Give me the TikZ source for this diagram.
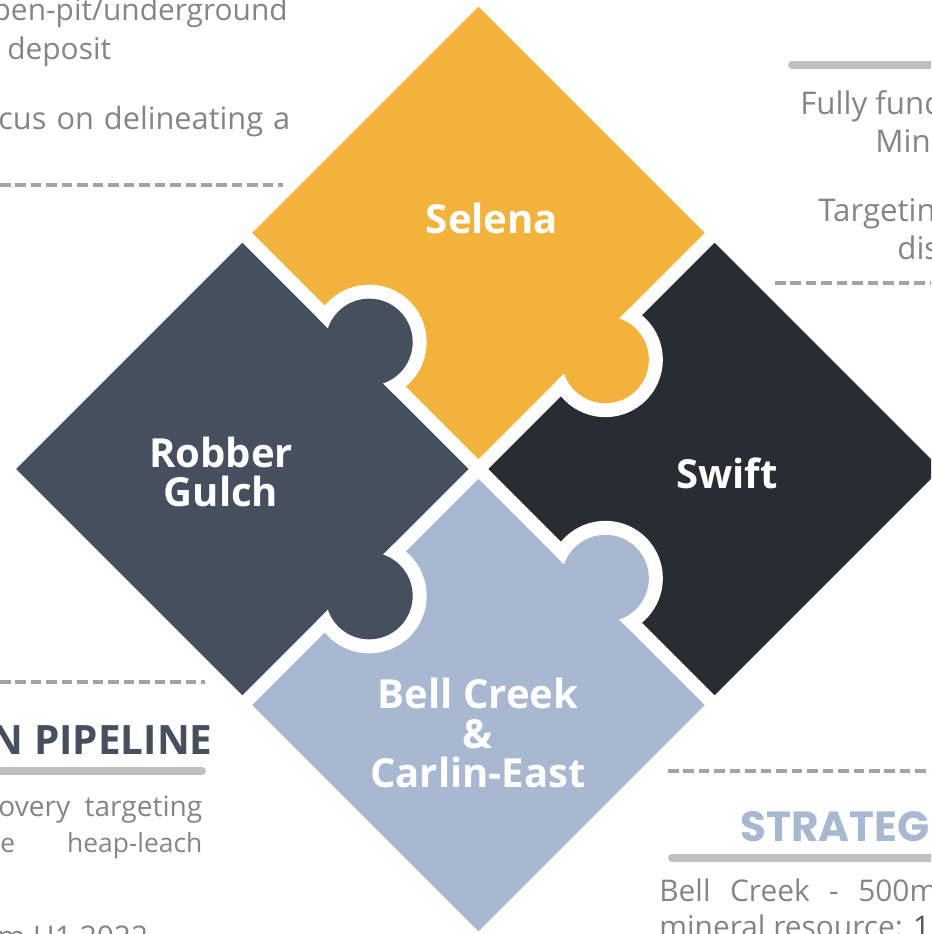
\documentclass[tikz,border=0pt]{standalone}
\usepackage{fontspec}
\setmainfont{Open Sans}
\newfontfamily\popfont{Poppins}
\usepackage{xcolor}
\usepackage{tikz}
\definecolor{selena}{HTML}{F2B23C}
\definecolor{robber}{HTML}{464F5E}
\definecolor{swift}{HTML}{282C33}
\definecolor{bell}{HTML}{A8B8D1}
\definecolor{txt}{HTML}{858585}
\definecolor{darktxt}{HTML}{555555}
\definecolor{dashgray}{HTML}{A3A3A3}
\definecolor{rulegray}{HTML}{BFBFBF}
\newcommand{\knob}[3]{%
  \begin{scope}\clip #3; \fill[white] #1 circle (57.5); \end{scope}
  \fill[#2] #1 circle (43.5);}

\begin{document}
\begin{tikzpicture}[x=0.02cm, y=0.02cm,
    piece/.style={font=\bfseries\fontsize{22.8}{22.3}\selectfont, text=white, align=center},
    note/.style={font=\fontsize{17}{19}\selectfont, text=txt, inner sep=0},
    sep/.style={dashgray, line width=1.9pt, dash pattern=on 6pt off 2.8pt},
    bar/.style={rulegray, line width=4.5pt, line cap=round}]
        \useasboundingbox (0,0) rectangle (931,934);
        \clip (0,0) rectangle (931,934);

        \begin{scope}[shift={(478.5,465)}, rotate=45]
          \fill[selena] (7,7)   rectangle (327,327);
          \fill[swift]  (7,-7)  rectangle (327,-327);
          \fill[robber] (-7,7)  rectangle (-327,327);
          \fill[bell]   (-7,-7) rectangle (-327,-327);
          \knob{(12.4,167)}{robber}{(-7,100) rectangle (80,240)}
          \knob{(167,-12.4)}{selena}{(100,7) rectangle (240,-80)}
          \knob{(-167,-12.4)}{robber}{(-240,7) rectangle (-100,-80)}
          \knob{(12.4,-167)}{bell}{(-7,-100) rectangle (80,-240)}
        \end{scope}

        \node[piece] (sel) at (492,716) {Selena};
        \node[piece] (rob) at (221,462) {Robber\\Gulch};
        \node[piece] (swi) at (727,461) {Swift};
        \node[piece] (bel) at (478,201) {Bell Creek\\\&\\Carlin-East};

        \node[note, anchor=base east] (t1) at (288,913) {pen-pit/underground};
        \node[note, anchor=base west] (t2) at (7,874)   {deposit};
        \node[note, anchor=base west, font=\fontsize{17.5}{20}\selectfont] (t3) at (-2,804)
             {\makebox[5.84cm][s]{cus on delineating a}};
        \draw[sep] (0,749) -- (283,749);

        \draw[bar] (792,869) -- (945,869);
        \node[note, anchor=base west, font=\fontsize{17.8}{20}\selectfont] (r1) at (800,819) {Fully fund};
        \node[note, anchor=base west, font=\fontsize{17.8}{20}\selectfont] (r2) at (875,781) {Mine};
        \node[note, anchor=base west, font=\fontsize{17.8}{20}\selectfont] (r3) at (818,712) {Targetin};
        \node[note, anchor=base west, font=\fontsize{17.8}{20}\selectfont] (r4) at (897,674) {dis};
        \draw[sep] (775,651) -- (931,651);

        \draw[sep] (0,252) -- (205,252);
        \node[anchor=base east, inner sep=0, text=robber, font=\bfseries\fontsize{23}{24}\selectfont] (pipe) at (213,179) {N PIPELINE};
        \draw[bar] (-10,163) -- (202,163);
        \node[note, anchor=base west, font=\fontsize{16}{19}\selectfont] (b1) at (-2,117) {\makebox[4.08cm][s]{overy targeting}};
        \node[note, anchor=base west, font=\fontsize{15}{19}\selectfont] (b2) at (0,81)   {\makebox[4.04cm][s]{e heap-leach}};
        \node[note, anchor=base west] (b3) at (-3,-13)  {m H1 2022};

        \draw[sep] (668,163) -- (931,163);
        \node[anchor=base west, inner sep=0, text=bell, font=\popfont\bfseries\fontsize{24}{24}\selectfont] (strat) at (740,92) {STRATEG};
        \draw[bar] (672,76) -- (945,76);
        \node[note, anchor=base west] (c1) at (659,32) {\makebox[5.56cm][s]{Bell Creek - 500m}};
        \node[note, anchor=base west] (c2) at (659,-4) {mineral resource: \textcolor{darktxt}{1}};
      \end{tikzpicture}
\end{document}
